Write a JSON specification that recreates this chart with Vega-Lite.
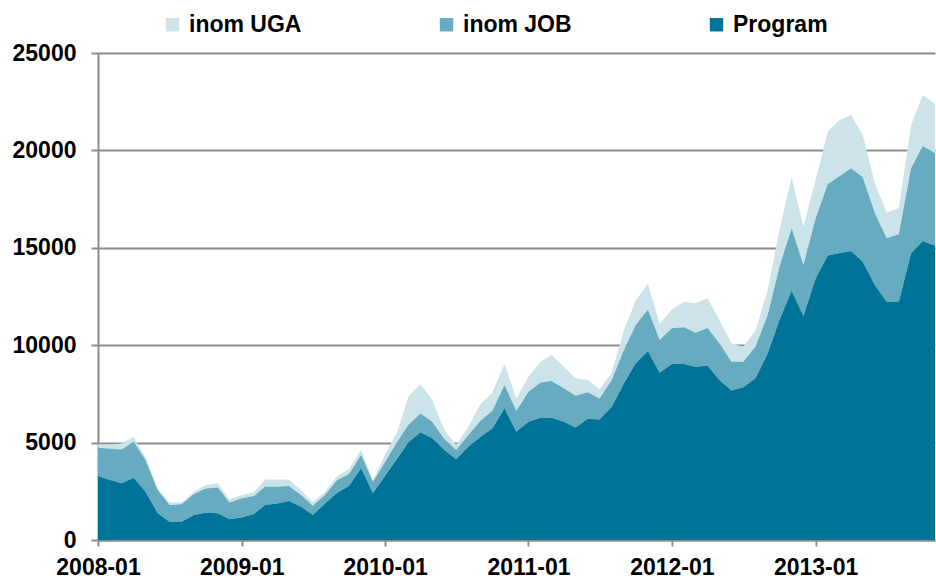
{
  "$schema": "https://vega.github.io/schema/vega-lite/v6.json",
  "width": 837,
  "height": 487,
  "autosize": {"type": "none"},
  "padding": {"left": 98, "top": 53, "right": 1, "bottom": 38},
  "config": {"view": {"stroke": null}, "font": "Liberation Sans"},
  "data": {
    "values": [
      {"d": "2008-01-01", "Program": 3290, "inom JOB": 1450, "inom UGA": 160},
      {"d": "2008-02-01", "Program": 3080, "inom JOB": 1610, "inom UGA": 210},
      {"d": "2008-03-01", "Program": 2910, "inom JOB": 1740, "inom UGA": 300},
      {"d": "2008-04-01", "Program": 3200, "inom JOB": 1850, "inom UGA": 250},
      {"d": "2008-05-01", "Program": 2480, "inom JOB": 1630, "inom UGA": 130},
      {"d": "2008-06-01", "Program": 1370, "inom JOB": 1200, "inom UGA": 80},
      {"d": "2008-07-01", "Program": 940, "inom JOB": 860, "inom UGA": 120},
      {"d": "2008-08-01", "Program": 940, "inom JOB": 890, "inom UGA": 90},
      {"d": "2008-09-01", "Program": 1280, "inom JOB": 1080, "inom UGA": 120},
      {"d": "2008-10-01", "Program": 1400, "inom JOB": 1250, "inom UGA": 170},
      {"d": "2008-11-01", "Program": 1370, "inom JOB": 1330, "inom UGA": 210},
      {"d": "2008-12-01", "Program": 1060, "inom JOB": 860, "inom UGA": 170},
      {"d": "2009-01-01", "Program": 1160, "inom JOB": 980, "inom UGA": 170},
      {"d": "2009-02-01", "Program": 1330, "inom JOB": 930, "inom UGA": 190},
      {"d": "2009-03-01", "Program": 1800, "inom JOB": 940, "inom UGA": 370},
      {"d": "2009-04-01", "Program": 1880, "inom JOB": 860, "inom UGA": 370},
      {"d": "2009-05-01", "Program": 2000, "inom JOB": 770, "inom UGA": 340},
      {"d": "2009-06-01", "Program": 1710, "inom JOB": 600, "inom UGA": 260},
      {"d": "2009-07-01", "Program": 1280, "inom JOB": 480, "inom UGA": 170},
      {"d": "2009-08-01", "Program": 1880, "inom JOB": 430, "inom UGA": 170},
      {"d": "2009-09-01", "Program": 2430, "inom JOB": 650, "inom UGA": 210},
      {"d": "2009-10-01", "Program": 2770, "inom JOB": 620, "inom UGA": 240},
      {"d": "2009-11-01", "Program": 3680, "inom JOB": 680, "inom UGA": 290},
      {"d": "2009-12-01", "Program": 2400, "inom JOB": 590, "inom UGA": 60},
      {"d": "2010-01-01", "Program": 3300, "inom JOB": 700, "inom UGA": 400},
      {"d": "2010-02-01", "Program": 4190, "inom JOB": 860, "inom UGA": 510},
      {"d": "2010-03-01", "Program": 5000, "inom JOB": 900, "inom UGA": 1460},
      {"d": "2010-04-01", "Program": 5530, "inom JOB": 970, "inom UGA": 1510},
      {"d": "2010-05-01", "Program": 5220, "inom JOB": 850, "inom UGA": 1120},
      {"d": "2010-06-01", "Program": 4620, "inom JOB": 550, "inom UGA": 480},
      {"d": "2010-07-01", "Program": 4140, "inom JOB": 480, "inom UGA": 260},
      {"d": "2010-08-01", "Program": 4790, "inom JOB": 600, "inom UGA": 430},
      {"d": "2010-09-01", "Program": 5300, "inom JOB": 820, "inom UGA": 860},
      {"d": "2010-10-01", "Program": 5730, "inom JOB": 910, "inom UGA": 920},
      {"d": "2010-11-01", "Program": 6760, "inom JOB": 1200, "inom UGA": 1070},
      {"d": "2010-12-01", "Program": 5560, "inom JOB": 1060, "inom UGA": 650},
      {"d": "2011-01-01", "Program": 6070, "inom JOB": 1540, "inom UGA": 770},
      {"d": "2011-02-01", "Program": 6280, "inom JOB": 1800, "inom UGA": 1070},
      {"d": "2011-03-01", "Program": 6280, "inom JOB": 1880, "inom UGA": 1340},
      {"d": "2011-04-01", "Program": 6070, "inom JOB": 1720, "inom UGA": 1110},
      {"d": "2011-05-01", "Program": 5780, "inom JOB": 1630, "inom UGA": 890},
      {"d": "2011-06-01", "Program": 6230, "inom JOB": 1350, "inom UGA": 630},
      {"d": "2011-07-01", "Program": 6190, "inom JOB": 1080, "inom UGA": 470},
      {"d": "2011-08-01", "Program": 6840, "inom JOB": 1370, "inom UGA": 380},
      {"d": "2011-09-01", "Program": 8040, "inom JOB": 1710, "inom UGA": 1030},
      {"d": "2011-10-01", "Program": 9070, "inom JOB": 1970, "inom UGA": 1250},
      {"d": "2011-11-01", "Program": 9700, "inom JOB": 2130, "inom UGA": 1330},
      {"d": "2011-12-01", "Program": 8590, "inom JOB": 1680, "inom UGA": 830},
      {"d": "2012-01-01", "Program": 9030, "inom JOB": 1840, "inom UGA": 960},
      {"d": "2012-02-01", "Program": 9030, "inom JOB": 1890, "inom UGA": 1310},
      {"d": "2012-03-01", "Program": 8900, "inom JOB": 1740, "inom UGA": 1510},
      {"d": "2012-04-01", "Program": 8950, "inom JOB": 1930, "inom UGA": 1530},
      {"d": "2012-05-01", "Program": 8210, "inom JOB": 1890, "inom UGA": 1190},
      {"d": "2012-06-01", "Program": 7670, "inom JOB": 1480, "inom UGA": 950},
      {"d": "2012-07-01", "Program": 7840, "inom JOB": 1310, "inom UGA": 770},
      {"d": "2012-08-01", "Program": 8300, "inom JOB": 1620, "inom UGA": 820},
      {"d": "2012-09-01", "Program": 9580, "inom JOB": 1970, "inom UGA": 1280},
      {"d": "2012-10-01", "Program": 11290, "inom JOB": 2740, "inom UGA": 1880},
      {"d": "2012-11-01", "Program": 12800, "inom JOB": 3200, "inom UGA": 2620},
      {"d": "2012-12-01", "Program": 11500, "inom JOB": 2620, "inom UGA": 1960},
      {"d": "2013-01-01", "Program": 13430, "inom JOB": 3080, "inom UGA": 1970},
      {"d": "2013-02-01", "Program": 14600, "inom JOB": 3680, "inom UGA": 2680},
      {"d": "2013-03-01", "Program": 14720, "inom JOB": 3930, "inom UGA": 2880},
      {"d": "2013-04-01", "Program": 14840, "inom JOB": 4240, "inom UGA": 2740},
      {"d": "2013-05-01", "Program": 14290, "inom JOB": 4330, "inom UGA": 2170},
      {"d": "2013-06-01", "Program": 13090, "inom JOB": 3680, "inom UGA": 1540},
      {"d": "2013-07-01", "Program": 12230, "inom JOB": 3260, "inom UGA": 1310},
      {"d": "2013-08-01", "Program": 12230, "inom JOB": 3480, "inom UGA": 1320},
      {"d": "2013-09-01", "Program": 14720, "inom JOB": 4360, "inom UGA": 2220},
      {"d": "2013-10-01", "Program": 15350, "inom JOB": 4880, "inom UGA": 2610},
      {"d": "2013-11-01", "Program": 15110, "inom JOB": 4740, "inom UGA": 2530}
    ]
  },
  "transform": [
    {"fold": ["inom UGA", "inom JOB", "Program"], "as": ["series", "value"]}
  ],
  "mark": {"type": "area", "interpolate": "linear"},
  "encoding": {
    "x": {
      "field": "d",
      "type": "temporal",
      "scale": {
        "type": "utc",
        "domain": [
          {"year": 2008, "month": 1, "date": 1, "utc": true},
          {"year": 2013, "month": 11, "date": 1, "utc": true}
        ]
      },
      "axis": {
        "title": null,
        "values": [
          {"year": 2008, "month": 1, "date": 1, "utc": true},
          {"year": 2009, "month": 1, "date": 1, "utc": true},
          {"year": 2010, "month": 1, "date": 1, "utc": true},
          {"year": 2011, "month": 1, "date": 1, "utc": true},
          {"year": 2012, "month": 1, "date": 1, "utc": true},
          {"year": 2013, "month": 1, "date": 1, "utc": true}
        ],
        "labelExpr": "utcFormat(datum.value, '%Y-%m')",
        "grid": false,
        "domainColor": "#8c8c8c",
        "domainWidth": 2,
        "tickColor": "#8c8c8c",
        "tickWidth": 2,
        "tickSize": 6,
        "labelFontSize": 23,
        "labelFontWeight": "bold",
        "labelColor": "#000000",
        "labelPadding": 10,
        "labelFlush": false,
        "labelOverlap": false
      }
    },
    "y": {
      "field": "value",
      "type": "quantitative",
      "stack": "zero",
      "scale": {"domain": [0, 25000], "nice": false},
      "axis": {
        "title": null,
        "values": [0, 5000, 10000, 15000, 20000, 25000],
        "format": "d",
        "grid": true,
        "gridColor": "#8c8c8c",
        "gridWidth": 2,
        "domainColor": "#8c8c8c",
        "domainWidth": 2,
        "tickColor": "#8c8c8c",
        "tickWidth": 2,
        "tickSize": 7,
        "labelFontSize": 23,
        "labelFontWeight": "bold",
        "labelColor": "#000000",
        "labelPadding": 15
      }
    },
    "color": {
      "field": "series",
      "type": "nominal",
      "scale": {
        "domain": ["inom UGA", "inom JOB", "Program"],
        "range": ["#cde3ea", "#66abc0", "#007498"]
      },
      "legend": {
        "title": null,
        "orient": "none",
        "direction": "horizontal",
        "legendX": 63,
        "legendY": -40,
        "symbolType": "square",
        "symbolSize": 180,
        "symbolStrokeWidth": 0,
        "symbolOpacity": 1,
        "labelFontSize": 23,
        "labelFontWeight": "bold",
        "labelColor": "#000000",
        "labelOffset": 5,
        "columnPadding": 133
      }
    },
    "order": {"field": "series", "sort": "ascending"}
  }
}
